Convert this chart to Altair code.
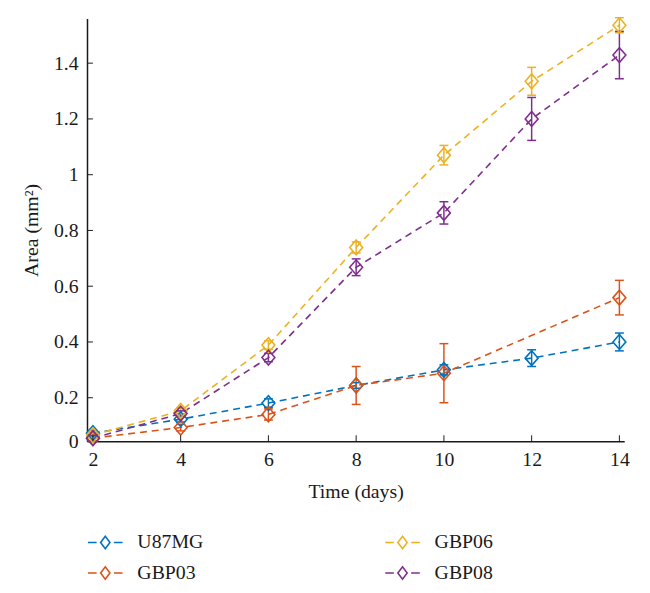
import altair as alt
import pandas as pd

# ---- data ----
series_names = ["U87MG", "GBP03", "GBP06", "GBP08"]
days_u87 = [2, 4, 6, 8, 10, 12, 14]
u87 = [0.073, 0.123, 0.181, 0.244, 0.300, 0.342, 0.400]
u87_err = [0.010, 0.010, 0.015, 0.010, 0.018, 0.030, 0.032]

days_gbp03 = [2, 4, 6, 8, 10, 14]
gbp03 = [0.055, 0.093, 0.140, 0.244, 0.288, 0.559]
gbp03_err = [0.010, 0.012, 0.020, 0.068, 0.106, 0.062]

days_gbp06 = [2, 4, 6, 8, 10, 12, 14]
gbp06 = [0.066, 0.153, 0.389, 0.739, 1.070, 1.335, 1.536]
gbp06_err = [0.010, 0.010, 0.015, 0.020, 0.035, 0.050, 0.027]

days_gbp08 = [2, 4, 6, 8, 10, 12, 14]
gbp08 = [0.055, 0.143, 0.344, 0.668, 0.863, 1.200, 1.429]
gbp08_err = [0.010, 0.010, 0.015, 0.030, 0.040, 0.077, 0.085]

x_ticks = [2, 4, 6, 8, 10, 12, 14]
y_ticks = [0.2, 0.4, 0.6, 0.8, 1.0, 1.2, 1.4]
y_zero_pos = 0.044  # where the "0" label sits (bottom of axis)

series_colors = ["#0072BD", "#D95319", "#EDB120", "#7E2F8E"]

rows = []
for name, ds, vs, es in [
    ("U87MG", days_u87, u87, u87_err),
    ("GBP03", days_gbp03, gbp03, gbp03_err),
    ("GBP06", days_gbp06, gbp06, gbp06_err),
    ("GBP08", days_gbp08, gbp08, gbp08_err),
]:
    for d, v, e in zip(ds, vs, es):
        rows.append(dict(series=name, day=d, area=v, lo=v - e, hi=v + e))
df = pd.DataFrame(rows)

FONT = "Liberation Serif"
INK = "#1a1a1a"
W, H = 544, 428

xscale = alt.Scale(domain=[1.865, 14.11], nice=False, zero=False)
yscale = alt.Scale(domain=[y_zero_pos, 1.56], nice=False, zero=False)

diamond = "M -0.87 0 L 0 -1 L 0.87 0 L 0 1 Z"
legend_sym = ("M -1 0 L -0.5 0 M 0.5 0 L 1 0 "
              "M -0.27 0 L 0 -0.36 L 0.27 0 L 0 0.36 Z")

color = alt.Color(
    "series:N",
    scale=alt.Scale(domain=series_names, range=series_colors),
    legend=alt.Legend(title=None, orient="none", columns=2,
                      legendX=0, legendY=516,
                      symbolType=legend_sym, symbolSize=1225,
                      symbolStrokeWidth=1.6,
                      labelFont=FONT, labelFontSize=20,
                      labelColor=INK, labelOffset=14,
                      columnPadding=183, rowPadding=2,
                      clipHeight=29, padding=0))

base = alt.Chart(df)

lines = base.mark_line(strokeDash=[7, 5], strokeWidth=1.6).encode(
    x=alt.X("day:Q", scale=xscale,
            axis=alt.Axis(values=x_ticks, tickSize=0, labelPadding=9,
                          title="Time (days)", titlePadding=12,
                          domainColor=INK, domainWidth=1.5, grid=False)),
    y=alt.Y("area:Q", scale=yscale,
            axis=alt.Axis(values=[y_zero_pos] + y_ticks, tickSize=0,
                          labelPadding=9, format="~g",
                          labelExpr="datum.value < 0.1 ? '0' : datum.label",
                          title="Area (mm²)", titlePadding=12,
                          domainColor=INK, domainWidth=1.5, grid=False)),
    color=color,
    detail="series:N",
    order="day:Q",
)

err = base.mark_rule(strokeWidth=1.5).encode(
    x="day:Q", y="lo:Q", y2="hi:Q", color=color)
cap_lo = base.mark_rule(strokeWidth=1.5, xOffset=-4.5, x2Offset=4.5).encode(
    x="day:Q", x2="day:Q", y="lo:Q", color=color)
cap_hi = base.mark_rule(strokeWidth=1.5, xOffset=-4.5, x2Offset=4.5).encode(
    x="day:Q", x2="day:Q", y="hi:Q", color=color)

points = base.mark_point(shape=diamond, size=225, filled=False,
                         strokeWidth=1.6, opacity=1).encode(
    x="day:Q", y="area:Q", color=color)

yt = alt.Chart(pd.DataFrame({"v": y_ticks})).mark_rule(
    color=INK, strokeWidth=1).encode(
    y=alt.Y("v:Q", scale=yscale), x=alt.value(0), x2=alt.value(6))
xt = alt.Chart(pd.DataFrame({"v": x_ticks})).mark_rule(
    color=INK, strokeWidth=1).encode(
    x=alt.X("v:Q", scale=xscale), y=alt.value(H), y2=alt.value(H - 6))

chart = alt.layer(lines, err, cap_lo, cap_hi, points, yt, xt).properties(
    width=W, height=H,
    background="white",
    autosize=alt.AutoSizeParams(type="none"),
    padding={"left": 80, "top": 7, "right": 18, "bottom": 150},
).configure_view(stroke=None).configure_axis(
    labelFont=FONT, labelFontSize=20, labelColor=INK,
    titleFont=FONT, titleFontSize=20, titleFontWeight="normal",
    titleColor=INK,
)

chart.save("out.html", embed_options={"renderer": "svg", "actions": False})
